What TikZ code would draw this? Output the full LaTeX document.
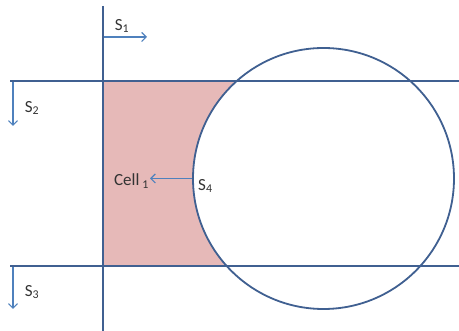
\documentclass[tikz,border=0pt]{standalone}
\usepackage{fontspec}
\setmainfont{Carlito}
\usetikzlibrary{arrows.meta,positioning}
\definecolor{lineblue}{RGB}{64,96,145}
\definecolor{arrowblue}{RGB}{79,129,189}
\definecolor{cellpink}{RGB}{230,185,184}

\begin{document}
\begin{tikzpicture}[x=1pt,y=-1pt,
  wall/.style={lineblue,line width=2pt},
  dir/.style={arrowblue,line width=1.2pt,-{Straight Barb[length=4.5pt,width=9pt]}},
  lbl/.style={font=\fontsize{17}{20}\selectfont,text=black!80,inner sep=1pt}]
  \useasboundingbox (0,0) rectangle (459,331);
  % Cell region
  \fill[cellpink] (103,81) rectangle (323,266);
  % Circle
  \node[circle,draw=lineblue,line width=1.8pt,fill=white,minimum size=261pt,inner sep=0pt] (ring) at (323.5,178.5) {};
  % Lines
  \draw[wall] (103,6) -- (103,331);
  \draw[wall] (10,81) -- (459,81);
  \draw[wall] (10,266) -- (459,266);
  % Labels
  \node[lbl] (s1) at (122,26) {S\textsubscript{1}};
  \node[lbl] (s2) at (32,108) {S\textsubscript{2}};
  \node[lbl] (s3) at (32,292) {S\textsubscript{3}};
  \node[lbl,anchor=west] (s4) at (197,186) {S\textsubscript{4}};
  \node[lbl,anchor=east] (cell) at (150,181) {Cell\,\textsubscript{1}};
  % Arrow ends
  \coordinate (s1a) at (104,37);
  \coordinate (s1b) at (147,37);
  \coordinate (s2a) at (13,82);
  \coordinate (s2b) at (13,126);
  \coordinate (s3a) at (13,267);
  \coordinate (s3b) at (13,309);
  % Arrows
  \draw[dir] (s1a) -- (s1b);
  \draw[dir] (s2a) -- (s2b);
  \draw[dir] (s3a) -- (s3b);
  \draw[dir] (ring.west) -- (ring.west -| cell.east);
\end{tikzpicture}
\end{document}
